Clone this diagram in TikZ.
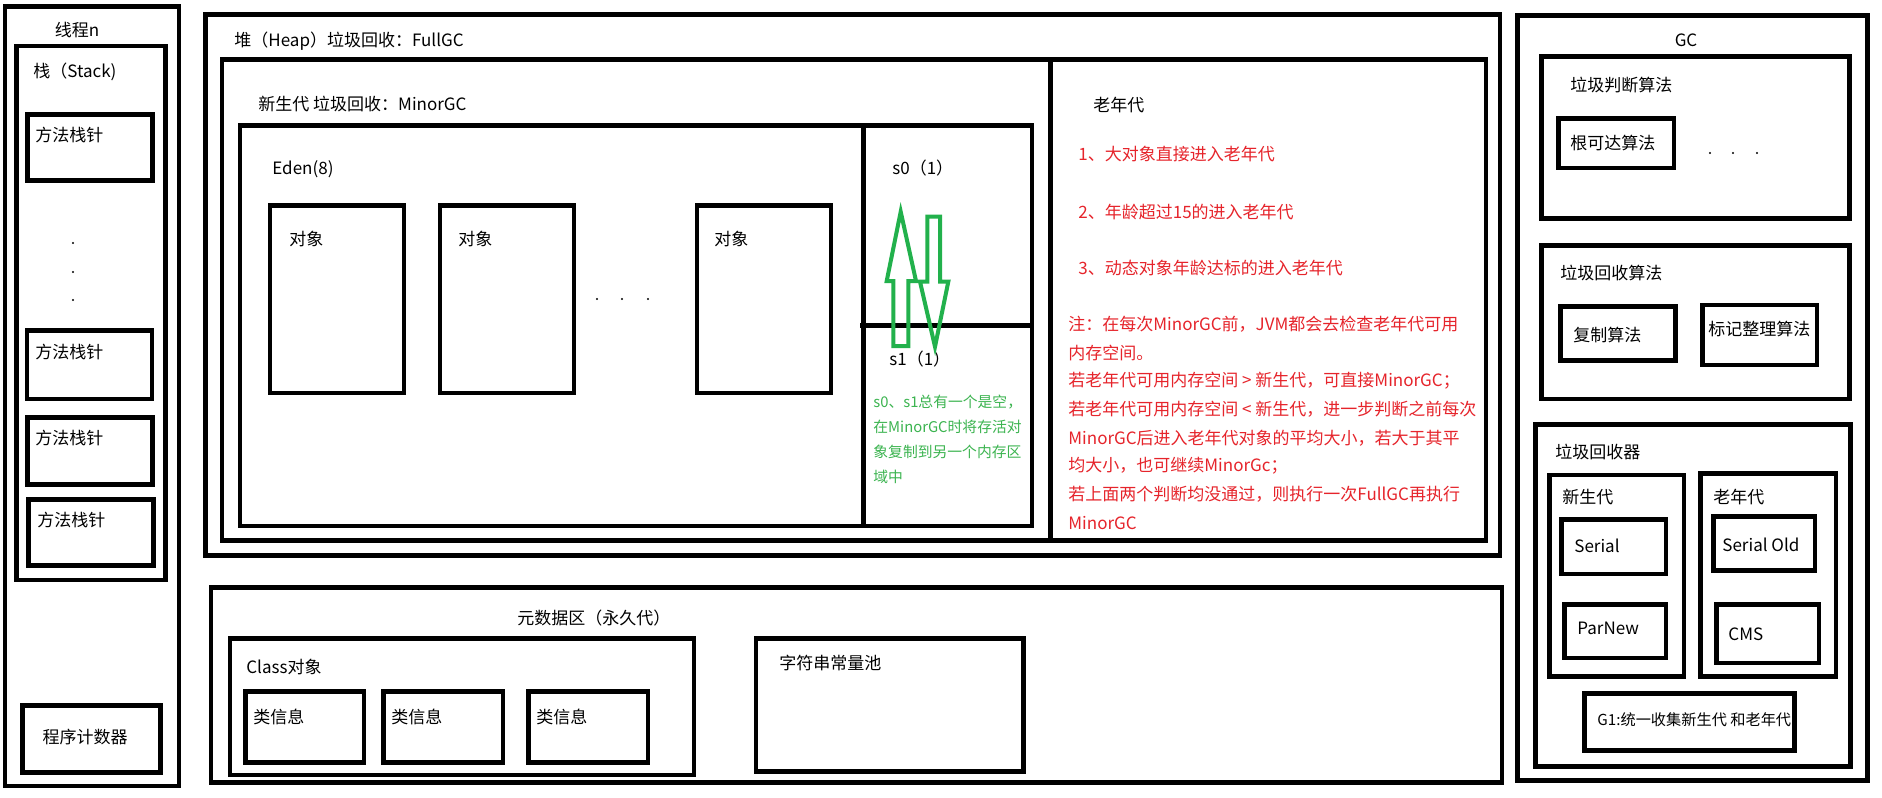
\documentclass[tikz,border=0pt]{standalone}
\usepackage{fontspec}
\setmainfont{Noto Sans CJK SC}
\definecolor{redtxtc}{HTML}{E6242B}
\definecolor{gtxtc}{HTML}{3CB450}
\definecolor{garrowc}{HTML}{22B14C}
\begin{document}
\begin{tikzpicture}[x=0.5pt,y=-0.5pt,
  box/.style={draw=black, line width=2.3pt},
  lbl/.style={anchor=west, inner sep=0pt, font=\fontsize{8.5pt}{10pt}\selectfont},
  clbl/.style={anchor=center, inner sep=0pt, font=\fontsize{8.5pt}{10pt}\selectfont},
  redtxt/.style={lbl, text=redtxtc},
  greentxt/.style={anchor=west, inner sep=0pt, text=gtxtc, font=\fontsize{7.4pt}{9pt}\selectfont},
  garrow/.style={draw=garrowc, line width=2pt, line join=miter},
  smalldot/.style={fill=black}
]
\useasboundingbox (0,0) rectangle (1882,797);
\fill[white] (0,0) rectangle (1882,797);

% ---------------- Thread ----------------
\draw[box] (5,6.5) rectangle (179,786);
\node[clbl] (thread) at (77,30) {线程n};
\draw[box] (16.5,46) rectangle (165.5,580);
\node[lbl] (stack) at (33,72) {栈（Stack)};
\draw[box] (27.5,114.5) rectangle (152.5,180.5);
\node[lbl] (f1) at (35,135) {方法栈针};
\fill[smalldot] (73,243) circle (1.2);
\fill[smalldot] (73,272) circle (1.2);
\fill[smalldot] (73,300) circle (1.2);
\draw[box] (27,330.5) rectangle (152,399);
\node[lbl] (f2) at (35,352) {方法栈针};
\draw[box] (27.5,417.5) rectangle (152.5,484.5);
\node[lbl] (f3) at (35,438) {方法栈针};
\draw[box] (28.5,499.5) rectangle (153.5,565.5);
\node[lbl] (f4) at (37,520) {方法栈针};
\draw[box] (22.5,705.5) rectangle (160.5,772.5);
\node[clbl] (pc) at (85,737) {程序计数器};

% ---------------- Heap ----------------
\draw[box] (205.5,14.5) rectangle (1500,555.5);
\node[lbl] (heap) at (234,40.7) {堆（Heap）垃圾回收：FullGC};
\draw[box] (222,59.5) rectangle (1486,540.5);
\draw[box] (1050.5,59.5) -- (1050.5,540.5);
\node[lbl] (young) at (258,104) {新生代 垃圾回收：MinorGC};
\draw[box] (240,125.5) rectangle (1032,526);
\draw[box] (863.5,125.5) -- (863.5,526);
\draw[box] (860,325.5) -- (1032,325.5);
\node[lbl] (eden) at (272,169) {Eden(8)};
\draw[box] (270,205.7) rectangle (404,393);
\draw[box] (440,205.7) rectangle (574,393);
\draw[box] (697,205.7) rectangle (831,393);
\node[lbl] (o1) at (289,239) {对象};
\node[lbl] (o2) at (458,239) {对象};
\node[lbl] (o3) at (714,239) {对象};
\fill[smalldot] (597,299) circle (1.2);
\fill[smalldot] (622,299) circle (1.2);
\fill[smalldot] (648,299) circle (1.2);
\node[lbl] (s0) at (892,168) {s0（1）};
\node[lbl] (s1) at (889,359) {s1（1）};
% green arrows
\draw[garrow] (900.7,211.7) -- (916,281) -- (908.3,281) -- (908.3,346) -- (893.3,346) -- (893.3,281) -- (886.7,281) -- cycle;
\draw[garrow] (927.3,216.7) -- (940,216.7) -- (940,281.7) -- (948.3,281.7) -- (935,346.7) -- (920,281.7) -- (927.3,281.7) -- cycle;
\node[greentxt] (g1) at (873,402) {s0、s1总有一个是空，};
\node[greentxt] (g2) at (873,427) {在MinorGC时将存活对};
\node[greentxt] (g3) at (873,452) {象复制到另一个内存区};
\node[greentxt] (g4) at (873,477) {域中};
% old gen
\node[lbl] (old) at (1093,105) {老年代};
\node[redtxt] (r1) at (1078,154) {1、大对象直接进入老年代};
\node[redtxt] (r2) at (1078,212) {2、年龄超过15的进入老年代};
\node[redtxt] (r3) at (1078,268) {3、动态对象年龄达标的进入老年代};
\node[redtxt] (n1) at (1068,324) {注：在每次MinorGC前，JVM都会去检查老年代可用};
\node[redtxt] (n2) at (1068,353) {内存空间。};
\node[redtxt] (n3) at (1068,381) {若老年代可用内存空间 > 新生代，可直接MinorGC；};
\node[redtxt] (n4) at (1068,409) {若老年代可用内存空间 < 新生代，进一步判断之前每次};
\node[redtxt] (n5) at (1068,438) {MinorGC后进入老年代对象的平均大小，若大于其平};
\node[redtxt] (n6) at (1068,466) {均大小，也可继续MinorGc；};
\node[redtxt] (n7) at (1068,494) {若上面两个判断均没通过，则执行一次FullGC再执行};
\node[redtxt] (n8) at (1068,523) {MinorGC};

% ---------------- Metadata ----------------
\draw[box] (211,587.5) rectangle (1502,782.5);
\node[lbl] (meta) at (517,618) {元数据区（永久代）};
\draw[box] (230,638.5) rectangle (694,775);
\node[lbl] (classobj) at (246,667) {Class对象};
\draw[box] (245.5,691.5) rectangle (364,762.5);
\draw[box] (383.5,691.5) rectangle (503,762.5);
\draw[box] (528.5,691.5) rectangle (648,762.5);
\node[lbl] (c1) at (253,717) {类信息};
\node[lbl] (c2) at (391,717) {类信息};
\node[lbl] (c3) at (536,717) {类信息};
\draw[box] (756,638.5) rectangle (1023.5,771.5);
\node[lbl] (pool) at (779,663) {字符串常量池};

% ---------------- GC ----------------
\draw[box] (1517.5,15.5) rectangle (1867.5,780.5);
\node[clbl] (gc) at (1686,40) {GC};
\draw[box] (1541.5,56.5) rectangle (1849.5,218.5);
\node[lbl] (judge) at (1570,85) {垃圾判断算法};
\draw[box] (1558.5,118.5) rectangle (1674,168);
\node[lbl] (root) at (1570,143) {根可达算法};
\fill[smalldot] (1710,153) circle (1.2);
\fill[smalldot] (1733,153) circle (1.2);
\fill[smalldot] (1757,153) circle (1.2);
\draw[box] (1541.5,245.5) rectangle (1849.5,399);
\node[lbl] (collalg) at (1560,273) {垃圾回收算法};
\draw[box] (1560.5,306.5) rectangle (1675.5,360.5);
\node[lbl] (copy) at (1573,335) {复制算法};
\draw[box] (1702.5,305) rectangle (1817,365);
\node[lbl] (mark) at (1708,329) {标记整理算法};
\draw[box] (1535.5,424.5) rectangle (1850.5,766.5);
\node[lbl] (collector) at (1555,452) {垃圾回收器};
\draw[box] (1549.5,475) rectangle (1684,676.5);
\node[lbl] (ynew) at (1562,497) {新生代};
\draw[box] (1561.5,519.5) rectangle (1666,574);
\node[lbl] (serial) at (1574,546) {Serial};
\draw[box] (1564.5,604.5) rectangle (1666,658);
\node[lbl] (parnew) at (1577,628) {ParNew};
\draw[box] (1700.5,473.5) rectangle (1836,676.5);
\node[lbl] (oold) at (1713,497) {老年代};
\draw[box] (1713.5,516.5) rectangle (1815,570.5);
\node[lbl] (serialold) at (1722,545) {Serial Old};
\draw[box] (1716.5,604.5) rectangle (1819,663);
\node[lbl] (cms) at (1728,634) {CMS};
\draw[box] (1584.5,693.5) rectangle (1794.5,750.5);
\node[anchor=west, inner sep=0pt, font=\fontsize{7.6pt}{9pt}\selectfont] (g1c) at (1597,720) {G1:统一收集新生代 和老年代};
\end{tikzpicture}
\end{document}
